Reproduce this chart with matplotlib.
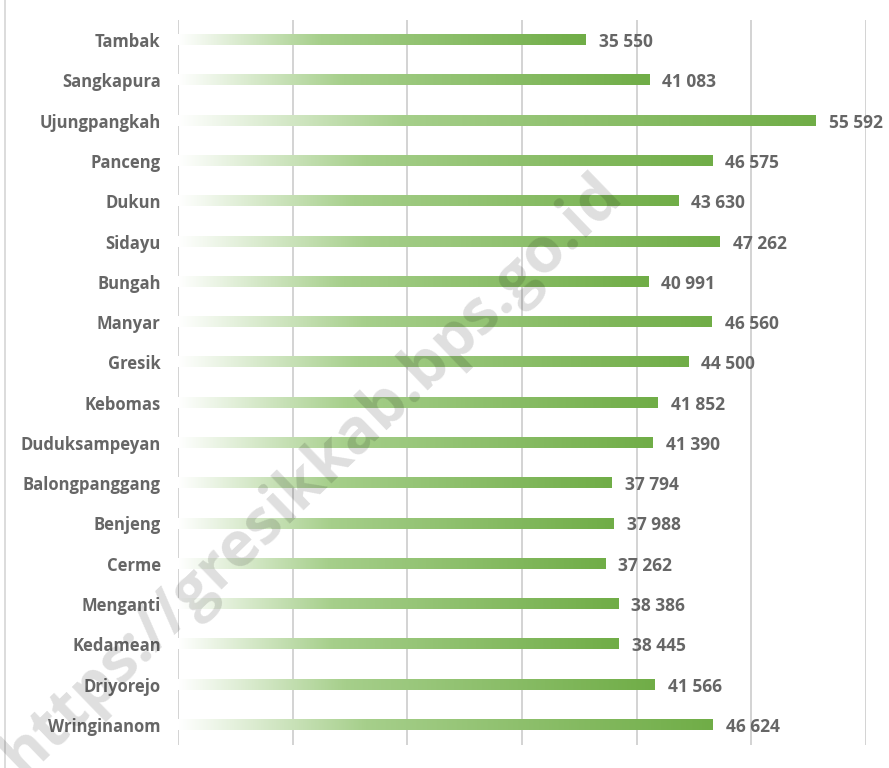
import numpy as np
import matplotlib
matplotlib.use('Agg')
from matplotlib import pyplot as plt
from matplotlib.colors import LinearSegmentedColormap
from matplotlib.lines import Line2D

kecamatan = ['Tambak', 'Sangkapura', 'Ujungpangkah', 'Panceng', 'Dukun', 'Sidayu',
             'Bungah', 'Manyar', 'Gresik', 'Kebomas', 'Duduksampeyan', 'Balongpanggang',
             'Benjeng', 'Cerme', 'Menganti', 'Kedamean', 'Driyorejo', 'Wringinanom']
nilai = [35550, 41083, 55592, 46575, 43630, 47262, 40991, 46560, 44500, 41852,
         41390, 37794, 37988, 37262, 38386, 38445, 41566, 46624]
xticks = [0, 10000, 20000, 30000, 40000, 50000, 60000]

plt.rcParams['font.family'] = ['Open Sans', 'DejaVu Sans']
teks = '#666666'

fig = plt.figure(figsize=(8.89, 7.68), dpi=100)
ax = fig.add_axes([178/889, 23/768, 688/889, 725/768])

cmap = LinearSegmentedColormap.from_list(
    'hijau', [(0, '#ffffff'), (0.35, '#a6cf8b'), (1, '#70ad47')])
grad = np.linspace(0, 1, 256).reshape(1, -1)

n = len(kecamatan)
tinggi = 0.25
for i, (nama, v) in enumerate(zip(kecamatan, nilai)):
    ax.imshow(grad, cmap=cmap, aspect='auto', zorder=2,
              extent=[0, v, i + tinggi / 2, i - tinggi / 2])
    ax.text(v + 1150, i + 0.05, f'{v:,}'.replace(',', ' '), va='center', ha='left',
            fontsize=12.5, fontweight='bold', color=teks, zorder=4)

ax.set_xlim(0, 60000)
ax.set_ylim(n - 0.5, -0.5)
ax.set_yticks(range(n))
ax.set_yticklabels(kecamatan, fontsize=12, fontweight='bold', color=teks)
ax.tick_params(axis='y', length=0, pad=12.5)
ax.set_xticks(xticks)
ax.tick_params(axis='x', length=0, labelbottom=False)
ax.grid(axis='x', color='#d0d0d0', lw=1.3, zorder=1)
for s in ax.spines.values():
    s.set_visible(False)

fig.add_artist(Line2D([5/889, 5/889], [0, 1], color='#d9d9d9', lw=1.3))

# watermark, cut by the bottom edge as in the source
fig.text(0.351, 0.381, 'https://gresikkab.bps.go.id', rotation=44,
         ha='center', va='center', fontsize=45, fontweight='bold',
         color='black', alpha=0.13, zorder=10)

plt.savefig('out.png', dpi=100)
